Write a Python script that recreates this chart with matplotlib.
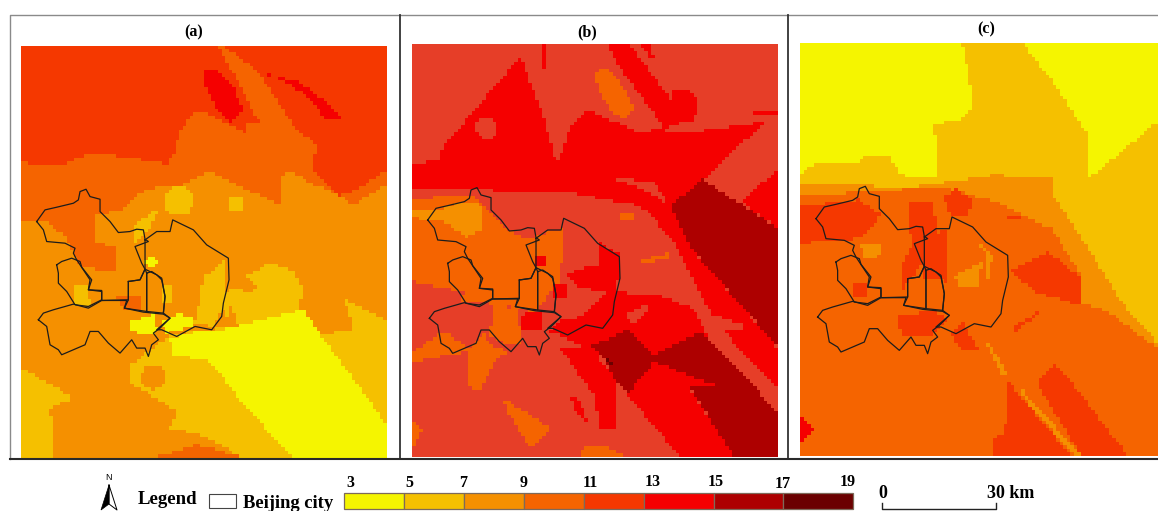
import numpy as np
import matplotlib
matplotlib.use("Agg")
import matplotlib.pyplot as plt
from matplotlib.colors import ListedColormap
from matplotlib.path import Path

plt.rcParams['font.family'] = ['Liberation Serif', 'DejaVu Serif']

# class colours, the last one is the duller 11-13 red used in panel (b)
CLASS_COLORS = ['#F5F500', '#F5C000', '#F59000', '#F56400', '#F53800',
                '#F50000', '#AD0000', '#6B0000', '#E63E28']
LEGEND_TICKS = ['3', '5', '7', '9', '11', '13', '15', '17', '19']
LEGEND_EDGES = [344, 404, 464, 524, 584, 644, 714, 783, 853]
LEGEND_LABEL_X = [350, 409, 463, 524, 590, 653, 716, 783, 848]
LEGEND_LABEL_Y = [483, 483, 483, 483, 483, 482, 482, 484, 482]

# map regions as (class, vertices), painted in order over the base class
REGIONS_A = [
    (3, [(32,92),(1130,92),(1130,510),(1030,570),(960,530),(900,505),(860,480),(820,470),(810,570),(720,530),(600,470),(520,510),(440,520),(380,540),(330,590),(250,600),(120,615),(32,620)]),
    (2, [(250,610),(330,590),(380,540),(440,520),(520,510),(600,470),(720,530),(810,580),(810,620),(400,760),(330,780),(320,700),(250,680)]),
    (3, [(100,600),(250,570),(250,680),(320,700),(320,770),(210,760),(160,660),(110,625)]),
    (4, [(32,92),(625,92),(680,200),(745,320),(710,330),(710,360),(640,320),(570,290),(550,290),(510,350),(490,420),(470,450),(420,440),(280,420),(230,420),(150,455),(32,445)]),
    (4, [(635,92),(1130,92),(1130,465),(1050,520),(990,545),(905,470),(920,390),(860,350),(790,240),(740,170),(660,110)]),
    (5, [(575,165),(620,165),(670,220),(700,290),(660,320),(620,290),(585,220)]),
    (5, [(770,180),(860,200),(930,250),(1005,318),(950,315),(880,240),(830,205)]),
    (1, [(360,1050),(430,1000),(480,960),(640,940),(640,840),(700,790),(780,745),(850,770),(880,830),(860,880),(880,885),(930,960),(1030,945),(1000,850),(1130,920),(1130,1240),(1130,1330),(700,1330),(570,1260),(480,1240),(500,1190),(400,1130),(360,1110)]),
    (2, [(655,820),(700,785),(745,815),(720,835),(680,820)]),
    (2, [(640,945),(660,870),(690,945)]),
    (1, [(32,1060),(190,1150),(115,1180),(130,1240),(125,1330),(32,1330)]),
    (1, [(370,690),(370,630),(450,580),(420,640)]),
    (1, [(560,900),(580,790),(640,740),(650,800),(640,880),(610,935),(550,930)]),
    (1, [(190,810),(230,810),(240,870),(190,870)]),
    (1, [(450,815),(490,815),(490,860),(450,860)]),
    (3, [(315,845),(390,845),(395,885),(340,885)]),
    (3, [(560,1290),(700,1330),(430,1330)]),
    (0, [(480,975),(560,950),(640,945),(880,885),(930,960),(1130,1230),(1130,1330),(850,1330),(700,1170),(600,1040),(490,1020)]),
    (0, [(360,920),(430,900),(440,950),(420,965),(360,950)]),
    (0, [(450,925),(500,900),(555,905),(550,935),(470,955)]),
]
BLOBS_A = [(1, 505, 560, 45), (1, 678, 568, 24), (0, 422, 742, 18), (2, 428, 1088, 36)]

REGIONS_B = [
    (5, [(35,445),(115,440),(125,400),(360,125),(430,310),(470,450),(510,340),(560,285),(710,350),(780,345),(860,355),(1095,320),(905,495),(810,580),(640,560),(500,530),(380,530),(35,520)]),
    (8, [(630,490),(760,500),(800,565),(720,520)]),
    (5, [(810,575),(870,700),(1132,1000),(1132,1120),(950,930),(880,800),(820,680),(740,590),(640,540)]),
    (5, [(1020,560),(1132,465),(1132,640)]),
    (5, [(625,92),(690,92),(800,240),(860,320),(790,340),(720,240),(650,150)]),
    (5, [(725,92),(750,92),(760,130),(745,125)]),
    (5, [(430,92),(440,92),(440,165),(430,165)]),
    (5, [(810,225),(860,220),(895,260),(880,320),(850,320),(815,270)]),
    (5, [(1055,293),(1132,293),(1132,303),(1055,303)]),
    (3, [(580,170),(620,160),(670,220),(700,280),(680,310),(640,300),(600,240)]),
    (3, [(660,600),(700,600),(700,620),(660,620)]),
    (3, [(700,745),(800,715),(805,730),(710,750)]),
    (6, [(905,495),(1132,640),(1132,995),(870,700),(810,575)]),
    (5, [(480,960),(620,830),(770,840),(880,880),(920,960),(760,1020),(1000,1326),(840,1326),(680,1140),(610,1030)]),
    (8, [(670,900),(760,860),(700,930)]),
    (8, [(880,880),(1030,930),(1030,940),(920,940)]),
    (6, [(570,995),(680,945),(760,1020),(900,950),(1132,1190),(1132,1326),(1000,1326),(850,1090),(760,1040),(740,1190),(640,1090),(610,1030)]),
    (5, [(760,1040),(940,1110),(860,1110),(1000,1326),(840,1326),(680,1140)]),
    (7, [(610,1010),(640,1060),(625,1050)]),
    (5, [(480,1000),(570,1000),(650,1100),(650,1245),(600,1240),(580,1140)]),
    (5, [(510,1145),(535,1150),(560,1220),(530,1200)]),
    (3, [(35,550),(220,545),(280,600),(330,650),(380,670),(490,640),(480,800),(400,890),(240,860),(190,860),(120,830),(35,800)]),
    (8, [(280,530),(390,560),(490,560),(480,640),(380,670),(330,650)]),
    (2, [(35,580),(110,590),(180,560),(240,570),(250,640),(200,670),(130,620),(35,610)]),
    (8, [(35,800),(190,830),(180,860),(35,850)]),
    (3, [(280,870),(350,880),(365,990),(300,980),(270,960)]),
    (3, [(35,1010),(130,950),(210,1000),(250,950),(270,990),(330,1010),(290,1030),(240,1130),(210,1120),(200,1010),(35,1040)]),
    (3, [(310,1150),(450,1240),(390,1300),(320,1190)]),
    (3, [(35,1215),(65,1250),(35,1300)]),
    (3, [(550,1290),(600,1290),(680,1326),(540,1326)]),
    (5, [(360,900),(420,890),(430,950),(360,945)]),
    (5, [(500,780),(570,750),(640,760),(650,830),(540,820)]),
    (5, [(405,725),(440,725),(440,750),(405,750)]),
    (5, [(590,680),(660,720),(655,800),(590,760)]),
    (5, [(460,810),(495,810),(495,850),(460,850)]),
    (5, [(440,960),(490,910),(620,920),(480,960)]),
]
BLOBS_B = [(8, 258, 340, 32)]

REGIONS_C = [
    (1, [(37,85),(1110,85),(1110,985),(1000,860),(900,700),(800,550),(795,490),(620,480),(380,515),(37,510)]),
    (0, [(37,85),(525,85),(545,200),(555,270),(530,310),(440,330),(450,480),(400,490),(340,480),(300,420),(230,420),(210,450),(90,440),(37,475)]),
    (0, [(705,85),(1110,85),(1110,320),(905,490),(895,350),(800,210)]),
    (2, [(37,510),(380,515),(620,480),(795,490),(800,550),(900,700),(1000,860),(1110,985),(1110,1000),(960,890),(870,860),(880,780),(790,640),(620,560),(480,520),(300,525),(37,545)]),
    (4, [(37,575),(120,565),(210,555),(280,600),(230,660),(170,680),(100,680),(37,685)]),
    (4, [(365,560),(440,565),(445,660),(480,640),(475,800),(410,790),(400,750),(340,830),(345,750),(375,690),(365,640)]),
    (4, [(465,545),(510,520),(555,560),(540,600),(490,605)]),
    (4, [(680,760),(780,710),(880,790),(875,870),(740,830),(670,770)]),
    (4, [(195,800),(240,810),(240,840),(200,845)]),
    (4, [(330,900),(440,890),(480,910),(430,960),(340,960)]),
    (4, [(490,960),(530,920),(540,945),(570,1000),(520,1000)]),
    (4, [(745,1100),(800,1050),(850,1100),(1020,1322),(880,1322)]),
    (4, [(660,1100),(850,1322),(615,1322),(615,1265),(650,1260)]),
    (4, [(680,930),(770,880),(680,955)]),
    (4, [(660,600),(700,600),(700,615),(660,615)]),
    (5, [(37,1200),(80,1245),(37,1280)]),
    (2, [(220,690),(285,690),(270,730),(230,735)]),
    (2, [(500,780),(580,745),(575,810),(520,820)]),
    (2, [(595,985),(615,1000),(660,1085),(645,1080)]),
    (2, [(570,680),(615,720),(600,790),(590,780),(600,725)]),
    (2, [(700,1120),(880,1322),(860,1322),(700,1140)]),
]

# district outlines of Beijing city
HAIDIAN = [(20,125),(45,90),(80,82),(130,70),(145,60),(150,35),(168,28),(180,50),(210,58),(210,95),(240,125),(265,158),(300,155),(320,148),(340,150),(345,178),(355,185),(315,200),(335,250),(345,268),(330,300),(295,305),(295,360),(215,362),(215,332),(175,330),(180,300),(140,240),(130,220),(135,205),(105,190),(50,185),(40,150)]
SHIJINGSHAN = [(80,255),(95,245),(125,235),(150,245),(155,262),(185,300),(175,330),(215,335),(215,360),(175,380),(135,375),(110,335),(85,310),(85,280)]
FENGTAI = [(25,420),(40,400),(70,390),(130,373),(175,385),(215,362),(290,362),(283,385),(340,397),(400,403),(420,415),(390,445),(370,460),(385,480),(365,495),(355,530),(345,505),(320,505),(305,480),(270,520),(235,490),(205,455),(180,455),(165,495),(130,510),(95,525),(85,510),(60,495),(50,440)]
CHAOYANG = [(345,180),(380,155),(420,155),(428,120),(490,150),(530,195),(595,235),(597,300),(580,370),(575,410),(545,450),(495,440),(440,470),(395,450),(380,450),(420,415),(400,400),(405,350),(395,300),(380,285),(345,268)]
XICHENG = [(295,305),(330,300),(345,268),(350,280),(350,395),(283,385),(295,360)]
DONGCHENG = [(350,280),(365,275),(395,295),(405,350),(400,400),(350,395)]
DISTRICTS = [HAIDIAN, SHIJINGSHAN, FENGTAI, CHAOYANG, XICHENG, DONGCHENG]


def pixel_axes(fig, left, top, right, bottom):
    """Axes placed by pixel edges of the 1158x511 picture"""
    return fig.add_axes([left / 1158, 1 - bottom / 511,
                         (right - left) / 1158, (bottom - top) / 511])


def draw_map(fig, box, extent, base, regions, blobs, shift):
    x0, x1, y0, y1 = extent
    ncol = int((x1 - x0) / 10.5)
    nrow = int((y1 - y0) / 10.5)
    xs = x0 + (np.arange(ncol) + 0.5) * (x1 - x0) / ncol
    ys = y0 + (np.arange(nrow) + 0.5) * (y1 - y0) / nrow
    xx, yy = np.meshgrid(xs, ys)
    cells = np.column_stack([xx.ravel(), yy.ravel()])
    grid = np.full(xx.size, base)
    for cls, verts in regions:
        grid[Path(verts + [verts[0]]).contains_points(cells)] = cls
    for cls, cx, cy, r in blobs:
        grid[np.hypot(cells[:, 0] - cx, cells[:, 1] - cy) < r] = cls
    grid = grid.reshape(xx.shape)

    ax = pixel_axes(fig, *box)
    ax.imshow(grid, cmap=ListedColormap(CLASS_COLORS), vmin=0, vmax=8,
              extent=(x0, x1, y1, y0), aspect='auto', interpolation='nearest')
    for district in DISTRICTS:
        pts = np.array(district + [district[0]])
        ax.plot(pts[:, 0] + 60 + shift[0], pts[:, 1] + 495 + shift[1],
                color='#1c1c1c', linewidth=0.9)
    ax.set_xlim(x0, x1)
    ax.set_ylim(y1, y0)
    ax.axis('off')


def draw_overlay(fig):
    ax = pixel_axes(fig, 0, 0, 1158, 511)
    ax.set_xlim(0, 1158)
    ax.set_ylim(511, 0)
    ax.axis('off')
    ax.patch.set_alpha(0)

    # panel frame
    ax.plot([1158, 10, 10], [15, 15, 459], color='#8a8a8a', linewidth=1)
    ax.plot([400, 400], [15, 459], color='#333333', linewidth=1.3)
    ax.plot([788, 788], [15, 459], color='#333333', linewidth=1.3)
    ax.plot([10, 1158], [459.5, 459.5], color='#2a2a2a', linewidth=1.5)

    for label, x, y in [('(a)', 194, 32), ('(b)', 587, 32), ('(c)', 986, 29)]:
        ax.text(x, y, label, ha='center', va='center', fontsize=11.5,
                fontweight='bold')

    # north arrow
    ax.text(109, 477, 'N', family=['Liberation Sans'], ha='center', va='center',
            fontsize=6.5)
    ax.fill([109, 101, 109], [485, 510, 504], color='black', linewidth=0.5)
    ax.plot([109, 117, 109, 109], [485, 510, 504, 485], color='black',
            linewidth=0.7)

    ax.text(138, 500, 'Legend', ha='left', va='center', fontsize=13.5,
            fontweight='bold')
    ax.add_patch(plt.Rectangle((209, 494), 27, 14, facecolor='white',
                               edgecolor='#444444', linewidth=0.8))
    ax.text(243, 503, 'Beijing city', ha='left', va='center', fontsize=13.4,
            fontweight='bold')

    for i in range(len(LEGEND_EDGES) - 1):
        ax.add_patch(plt.Rectangle((LEGEND_EDGES[i], 493.5),
                                   LEGEND_EDGES[i + 1] - LEGEND_EDGES[i], 16,
                                   facecolor=CLASS_COLORS[i],
                                   edgecolor='#7d6a5a', linewidth=0.9))
    for tick, x, y in zip(LEGEND_TICKS, LEGEND_LABEL_X, LEGEND_LABEL_Y):
        ax.text(x, y, tick, ha='center', va='center', fontsize=11.5,
                fontweight='bold')

    # scale bar
    ax.plot([882, 882, 996, 996], [503, 509.5, 509.5, 503], color='#222222',
            linewidth=1)
    ax.text(883, 493, '0', ha='center', va='center', fontsize=13,
            fontweight='bold')
    ax.text(987, 493, '30 km', ha='left', va='center', fontsize=13,
            fontweight='bold')


def main():
    fig = plt.figure(figsize=(11.58, 5.11), dpi=100, facecolor='white')
    draw_map(fig, (20.7, 45.7, 386.7, 458), (32, 1130, 92, 1330), 2,
             REGIONS_A, BLOBS_A, (0, 0))
    draw_map(fig, (411.7, 44.3, 777.3, 457), (35, 1132, 88, 1326), 8,
             REGIONS_B, BLOBS_B, (3, -5))
    draw_map(fig, (800.3, 43.3, 1158, 455.7), (37, 1110, 85, 1322), 3,
             REGIONS_C, [], (4, -9))
    draw_overlay(fig)
    fig.savefig('out.png', dpi=100)


if __name__ == "__main__":
    main()
